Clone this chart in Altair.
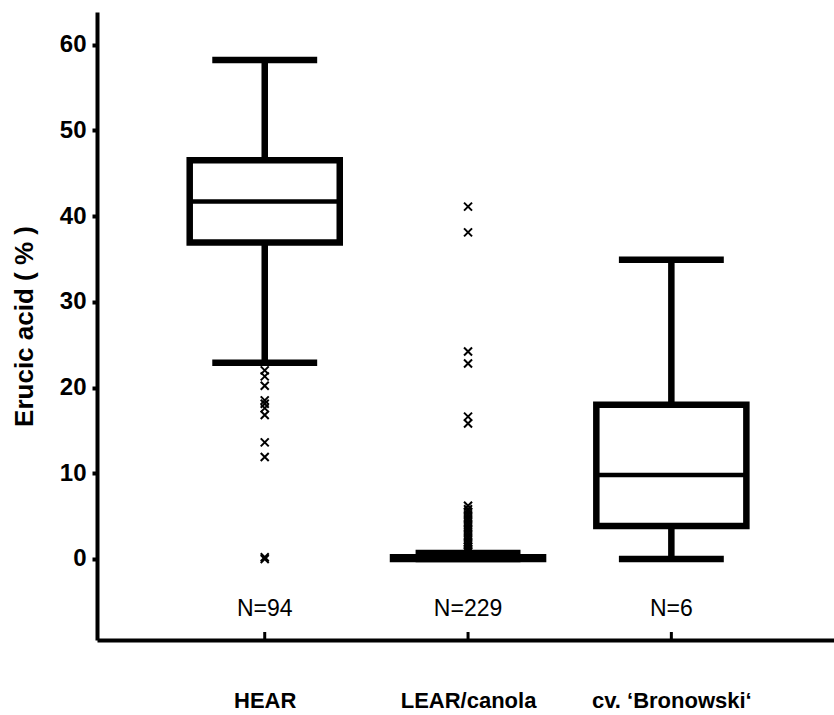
import altair as alt
import pandas as pd

categories = ["HEAR", "LEAR/canola", "cv. \u2018Bronowski\u2018"]
n_labels = ["N=94", "N=229", "N=6"]
whisker_low = [22.9, 0.0, 0.0]
q1 = [36.9, 0.0, 3.85]
median = [41.7, 0.05, 9.8]
q3 = [46.5, 0.2, 18.0]
whisker_high = [58.2, 0.7, 34.9]

hear_outliers = [22.0, 21.3, 20.2, 18.5, 18.1, 17.6, 16.8, 13.6, 11.9, 0.0, 0.2]
lear_outliers = [41.1, 38.1, 24.2, 22.8, 16.6, 15.8,
                 6.2, 5.8, 5.5, 5.2, 4.9, 4.6, 4.3, 4.0, 3.7, 3.4, 3.1,
                 2.8, 2.5, 2.2, 1.9, 1.6, 1.4, 1.2, 1.0, 0.9]
bron_outliers = []

FONT = "Liberation Sans"

box_df = pd.DataFrame({
    "cat": categories,
    "pos": [i + 1 for i in range(len(categories))],
    "n": n_labels,
    "lo": whisker_low,
    "q1": q1,
    "med": median,
    "q3": q3,
    "hi": whisker_high,
})

out_rows = []
for cat, vals in zip(categories, [hear_outliers, lear_outliers, bron_outliers]):
    for v in vals:
        out_rows.append({"cat": cat, "pos": categories.index(cat) + 1, "val": v})
out_df = pd.DataFrame(out_rows)

label_expr = " : ".join(
    f"datum.value == {i + 1} ? '{c}'" for i, c in enumerate(categories)
) + " : ''"

xscale = alt.Scale(domain=[0.175, 3.8], nice=False, zero=False)
yscale = alt.Scale(domain=[-9.45, 63.8], nice=False, zero=False)

xaxis = alt.Axis(
    values=[1, 2, 3], labelExpr=label_expr, title=None, ticks=False, grid=False,
    domainWidth=4, domainColor="black", labelFont=FONT, labelFontSize=22,
    labelFontWeight="bold", labelColor="black", labelPadding=50,
)
yaxis = alt.Axis(
    values=[0, 10, 20, 30, 40, 50, 60], title="Erucic acid ( % )", grid=False,
    domainWidth=4, domainColor="black", tickSize=5, tickWidth=4, tickColor="black",
    labelFont=FONT, labelFontSize=24, labelFontWeight="bold", labelColor="black",
    labelPadding=6, titleFont=FONT, titleFontSize=26, titleFontWeight="bold",
    titleColor="black", titlePadding=22,
)

base = alt.Chart(box_df).transform_calculate(
    xl="datum.pos - 0.369", xr="datum.pos + 0.369",
    cl="datum.pos - 0.258", cr="datum.pos + 0.258",
)

X = alt.X("pos:Q", scale=xscale, axis=xaxis)

upper_whisker = base.mark_rule(color="black", strokeWidth=6.5).encode(
    x=X, y=alt.Y("q3:Q", scale=yscale, axis=yaxis), y2="hi:Q"
)
lower_whisker = base.mark_rule(color="black", strokeWidth=6.5).encode(
    x=X, y=alt.Y("lo:Q", scale=yscale, axis=yaxis), y2="q1:Q"
)
boxes = base.mark_rect(fill="white", stroke="black", strokeWidth=6.5).encode(
    x=alt.X("xl:Q", scale=xscale, axis=xaxis), x2="xr:Q",
    y=alt.Y("q1:Q", scale=yscale, axis=yaxis), y2="q3:Q",
)
medians = base.mark_rule(color="black", strokeWidth=4.5).encode(
    x=alt.X("xl:Q", scale=xscale, axis=xaxis), x2="xr:Q",
    y=alt.Y("med:Q", scale=yscale, axis=yaxis),
)
caps_hi = base.mark_rule(color="black", strokeWidth=6.5).encode(
    x=alt.X("cl:Q", scale=xscale, axis=xaxis), x2="cr:Q",
    y=alt.Y("hi:Q", scale=yscale, axis=yaxis),
)
caps_lo = base.mark_rule(color="black", strokeWidth=6.5).encode(
    x=alt.X("cl:Q", scale=xscale, axis=xaxis), x2="cr:Q",
    y=alt.Y("lo:Q", scale=yscale, axis=yaxis),
)
outliers = alt.Chart(out_df).mark_point(
    shape="M-1,-1L1,1M-1,1L1,-1", size=64, stroke="black", strokeWidth=2,
    filled=False, opacity=1,
).encode(
    x=X, y=alt.Y("val:Q", scale=yscale, axis=yaxis)
)
n_text = base.mark_text(font=FONT, fontSize=23, color="black", baseline="middle").encode(
    x=X, y=alt.value(597), text="n:N"
)
xticks = base.mark_rule(color="black", strokeWidth=3).encode(
    x=X, y=alt.value(628), y2=alt.value(620)
)

chart = alt.layer(
    upper_whisker, lower_whisker, boxes, medians, caps_hi, caps_lo,
    outliers, n_text, xticks
).properties(
    width=737, height=628,
    padding={"left": 97, "top": 12, "right": 0, "bottom": 75},
    autosize=alt.AutoSizeParams(type="none"),
    background="white",
).configure_view(stroke=None)

chart.save("out.html", embed_options={"renderer": "svg", "actions": False})
